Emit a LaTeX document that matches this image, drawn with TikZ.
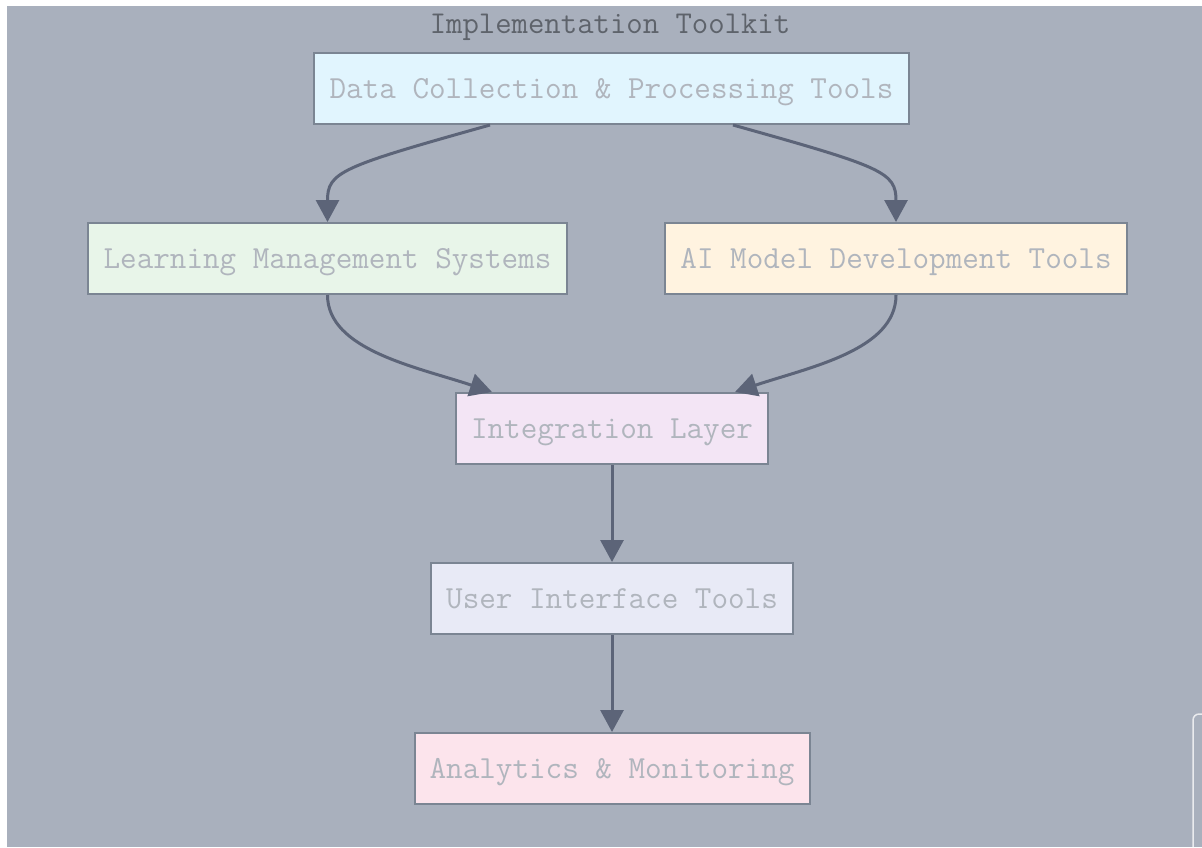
\documentclass[tikz,border=0pt]{standalone}
\usepackage{fontspec}
\usetikzlibrary{arrows.meta}
\definecolor{bggray}{HTML}{A9B0BD}
\definecolor{boxline}{HTML}{7B8593}
\definecolor{edgecol}{HTML}{5C6478}
\definecolor{txtcol}{HTML}{B0B5BD}
\definecolor{titlecol}{HTML}{5E636B}
\definecolor{cblue}{HTML}{E1F5FE}
\definecolor{cgreen}{HTML}{E8F5E9}
\definecolor{corange}{HTML}{FFF3E0}
\definecolor{cpurple}{HTML}{F3E5F5}
\definecolor{cindigo}{HTML}{E8EAF6}
\definecolor{cpink}{HTML}{FCE4EC}
\tikzset{
  toolbox/.style={draw=boxline, line width=2pt, inner sep=0pt, minimum height=71pt,
    text height=25.8pt, text depth=6.4pt,
    text=txtcol, font=\ttfamily\fontsize{32.2}{35}\selectfont},
  arr/.style={draw=edgecol, line width=3pt, -{Triangle[length=22pt,width=23pt]}}
}
\begin{document}
\begin{tikzpicture}[x=1pt,y=-1pt]
\useasboundingbox (0,0) rectangle (1202,847);
\fill[white] (0,0) rectangle (1202,847);
\fill[bggray] (7,6) rectangle (1202,847);
\draw[color=white!75!bggray, line width=1.5pt, rounded corners=6pt] (1193,847) |- (1202,714);
\node[text=titlecol, font=\ttfamily\fontsize{31.8}{35}\selectfont, inner sep=0pt, text height=25.4pt, text depth=6.4pt] (title) at (610,24) {Implementation Toolkit};
\node[toolbox, fill=cblue, minimum width=595pt] (dc) at (611.5,88.5) {Data Collection \& Processing Tools};
\node[toolbox, fill=cgreen, minimum width=479pt] (lms) at (327.5,258.5) {Learning Management Systems};
\node[toolbox, fill=corange, minimum width=462pt] (ai) at (896,258.5) {AI Model Development Tools};
\node[toolbox, fill=cpurple, minimum width=312pt] (il) at (612,428.5) {Integration Layer};
\node[toolbox, fill=cindigo, minimum width=362pt] (ui) at (612,598.5) {User Interface Tools};
\node[toolbox, fill=cpink, minimum width=395pt] (am) at (612,768.5) {Analytics \& Monitoring};
\draw[arr] ([xshift=-121.5pt]dc.south) .. controls +(-150,42) and +(0,-50) .. (lms.north);
\draw[arr] ([xshift=121.5pt]dc.south) .. controls +(150,42) and +(0,-50) .. (ai.north);
\draw[arr] (lms.south) .. controls +(0,55) and +(-75,-25) .. ([xshift=-120pt]il.north);
\draw[arr] (ai.south) .. controls +(0,55) and +(75,-25) .. ([xshift=123pt]il.north);
\draw[arr] (il.south) -- (ui.north);
\draw[arr] (ui.south) -- (am.north);
\end{tikzpicture}
\end{document}
